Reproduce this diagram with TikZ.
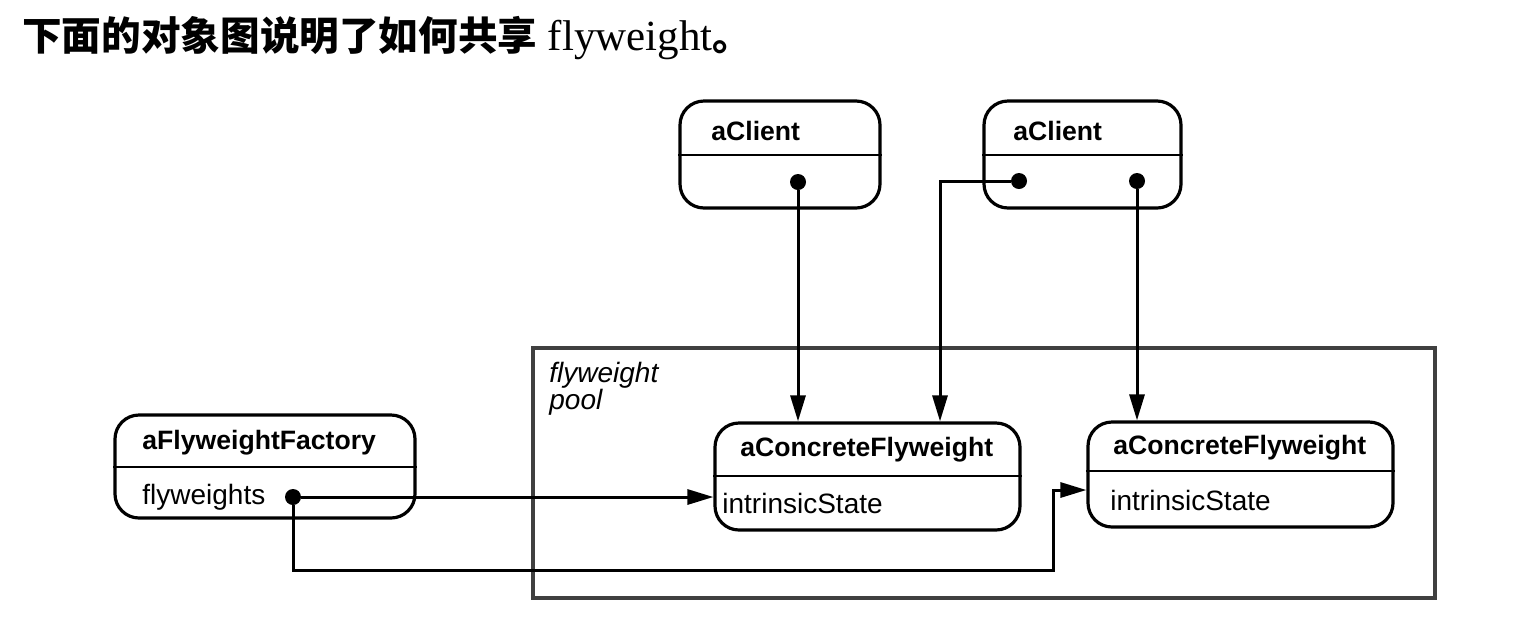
\documentclass[tikz,border=0pt]{standalone}
\usepackage{fontspec}
\setmainfont{Liberation Serif}
\setsansfont{Liberation Sans}
\newfontfamily\cjk{Noto Sans CJK SC}
\usetikzlibrary{arrows.meta,calc}
\begin{document}
\begin{tikzpicture}[x=0.5pt,y=-0.5pt,
 obj/.style={draw,line width=1.6pt,rounded corners=12pt,inner sep=0pt},
 divider/.style={line width=1.2pt},
 ttl/.style={font=\sffamily\bfseries\fontsize{13.3}{15}\selectfont,anchor=west,inner sep=0pt},
 attr/.style={font=\sffamily\fontsize{14}{16}\selectfont,anchor=west,inner sep=0pt},
 dot/.style={circle,fill,inner sep=0pt,minimum size=8pt},
 link/.style={line width=1.5pt},
 arr/.style={link,-{Triangle[length=13pt,width=7.5pt]}},
 pool/.style={draw=black!75,line width=2.2pt,inner sep=0pt}]
\useasboundingbox (0,0) rectangle (1530,628);
\node[font=\fontsize{21.5}{24}\selectfont,anchor=base west,inner sep=0pt] (title) at (22,50) {{\cjk\bfseries\fontsize{19.8}{24}\selectfont 下面的对象图说明了如何共享} flyweight{\cjk\bfseries\fontsize{19.8}{24}\selectfont 。}};
% pool
\node[pool,minimum width=451pt,minimum height=125pt] (pool) at (984,473) {};
\node[font=\sffamily\itshape\fontsize{14}{13.5}\selectfont,align=left,anchor=north west,inner sep=0pt] (pl) at (549,362) {flyweight\\pool};
% clients
\node[obj,minimum width=100pt,minimum height=53.5pt] (c1) at (780,154.5) {};
\draw[divider] (c1.west |- 0,155) -- (c1.east |- 0,155);
\node[ttl] (c1t) at (711,131) {aClient};
\node[dot] (d1) at (798,182) {};
\node[obj,minimum width=98.5pt,minimum height=53.5pt] (c2) at (1082.5,154.5) {};
\draw[divider] (c2.west |- 0,155) -- (c2.east |- 0,155);
\node[ttl] (c2t) at (1013,131) {aClient};
\node[dot] (d2) at (1019,181) {};
\node[dot] (d3) at (1137,181) {};
% concrete flyweights
\node[obj,minimum width=152.5pt,minimum height=53.5pt] (cf1) at (867.5,476.5) {};
\draw[divider] (cf1.west |- 0,476) -- (cf1.east |- 0,476);
\node[ttl] (cf1t) at (740,450) {aConcreteFlyweight};
\node[attr] (cf1a) at (722,503) {intrinsicState};
\node[obj,minimum width=152.5pt,minimum height=52.5pt] (cf2) at (1240.5,474.5) {};
\draw[divider] (cf2.west |- 0,471) -- (cf2.east |- 0,471);
\node[ttl] (cf2t) at (1113,448) {aConcreteFlyweight};
\node[attr] (cf2a) at (1110,500) {intrinsicState};
% factory
\node[obj,minimum width=150pt,minimum height=51.5pt] (fac) at (265,466.5) {};
\draw[divider] (fac.west |- 0,467) -- (fac.east |- 0,467);
\node[ttl] (fact) at (142,443) {aFlyweightFactory};
\node[attr] (faca) at (142,497) {flyweights};
\node[dot] (fd) at (293,497) {};
% connectors
\draw[arr] (d1) -- (d1 |- cf1.north);
\coordinate (k1) at (940,181);
\draw[arr] (d2) -- (k1) -- (k1 |- cf1.north);
\draw[arr] (d3) -- (d3 |- cf2.north);
\draw[arr] (fd) -- (fd -| cf1.west);
\coordinate (k2) at (293,570);
\coordinate (k3) at (1053,490);
\draw[arr] (fd) -- (k2) -| (k3) -- (k3 -| cf2.west);
\end{tikzpicture}
\end{document}
